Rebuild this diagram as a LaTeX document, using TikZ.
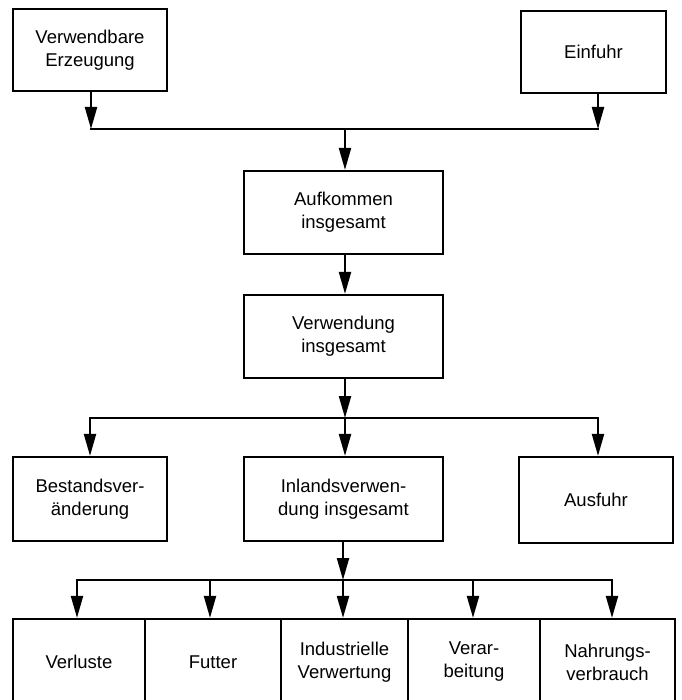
\documentclass[tikz,border=0pt]{standalone}
\usepackage{fontspec}
\setmainfont{Liberation Sans}
\usetikzlibrary{arrows.meta}
\begin{document}
\begin{tikzpicture}[x=1pt,y=-1pt,
  box/.style={draw, line width=2.2pt, align=center, inner sep=0pt,
    font=\fontsize{18.5}{23}\selectfont},
  flow/.style={line width=2.2pt, -{Triangle[length=22pt,width=12pt]}},
  link/.style={line width=2.2pt, line cap=rect}]
\useasboundingbox (0,0) rectangle (681,700);
\clip (0,0) rectangle (681,700);
% top row
\node[box, minimum width=154pt, minimum height=82pt] (verw) at (90,50) {Verwendbare\\Erzeugung};
\node[box, minimum width=145pt, minimum height=82pt] (einf) at (593.5,52) {Einfuhr};
% centre column
\node[box, minimum width=199pt, minimum height=83pt] (auf) at (343.5,212.5) {Aufkommen\\insgesamt};
\node[box, minimum width=199pt, minimum height=83pt] (vg) at (343.5,336.5) {Verwendung\\insgesamt};
% middle row
\node[box, minimum width=154pt, minimum height=84pt] (best) at (90,499) {Bestandsver-\\änderung};
\node[box, minimum width=199pt, minimum height=84pt] (inl) at (343.5,499) {Inlandsverwen-\\dung insgesamt};
\node[box, minimum width=154pt, minimum height=86pt] (ausf) at (596,500) {Ausfuhr};
% bottom row
\node[box, minimum width=132pt, minimum height=86pt] (verl) at (79,662) {Verluste};
\node[box, minimum width=136pt, minimum height=86pt] (fut) at (213,662) {Futter};
\node[box, minimum width=127pt, minimum height=86pt] (ind) at (344.5,662) {Industrielle\\Verwertung};
\node[box, minimum width=132pt, minimum height=86pt] (vera) at (474,662) {Verar-\\beitung};
\node[box, minimum width=135pt, minimum height=86pt] (nahr) at (607.5,662) {Nahrungs-\\verbrauch};
% junction coordinates
\coordinate (a1) at (91,129);
\coordinate (a2) at (598,129);
\coordinate (a3) at (345,129);
\coordinate (m0) at (345,418);
\coordinate (m1) at (90,418);
\coordinate (m3) at (598,418);
\coordinate (b0) at (343,580);
\coordinate (b1) at (77,580);
\coordinate (b2) at (210,580);
\coordinate (b4) at (473,580);
\coordinate (b5) at (612,580);
% top merge
\draw[link] (a1) -- (a2);
\draw[flow] (verw.south -| a1) -- (a1);
\draw[flow] (einf.south -| a2) -- (a2);
\draw[flow] (a3) -- (auf.north -| a3);
\draw[flow] (auf.south -| a3) -- (vg.north -| a3);
% middle split
\draw[flow] (vg.south -| m0) -- (m0);
\draw[link] (m1) -- (m3);
\draw[flow] (m1) -- (best.north -| m1);
\draw[flow] (m0) -- (inl.north -| m0);
\draw[flow] (m3) -- (ausf.north -| m3);
% bottom split
\draw[flow] (inl.south -| b0) -- (b0);
\draw[link] (b1) -- (b5);
\draw[flow] (b1) -- (verl.north -| b1);
\draw[flow] (b2) -- (fut.north -| b2);
\draw[flow] (b0) -- (ind.north -| b0);
\draw[flow] (b4) -- (vera.north -| b4);
\draw[flow] (b5) -- (nahr.north -| b5);
\end{tikzpicture}
\end{document}
